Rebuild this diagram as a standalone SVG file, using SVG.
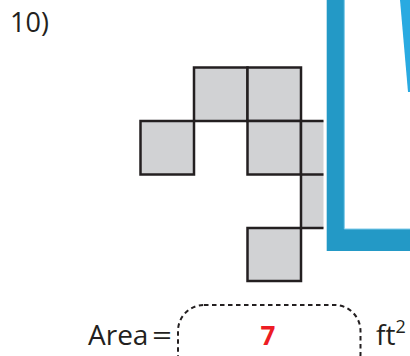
<svg xmlns="http://www.w3.org/2000/svg" width="410" height="356" viewBox="0 0 410 356">
<style>
.sq{fill:#d1d2d4;stroke:#231f20;stroke-width:2.5}
.t{font-family:"Open Sans","Liberation Sans",sans-serif;fill:#231f20}
</style>
<rect width="410" height="356" fill="#fff"/>
<g id="deco">
<path d="M326.7 0 H344.3 V229 H410 V251 H326.7 Z" fill="#2399c6"/>
<path d="M344.3 0 V229 H410" fill="none" stroke="#7fcbea" stroke-width="1"/>
<path d="M400 0 L408 92 L410 92 L410 0 Z" fill="#29aae1"/>
</g>
<g id="label"><text class="t" x="10" y="32" font-size="27">10)</text></g>
<g id="shape">
<rect class="sq" x="194" y="67.5" width="53.5" height="53.5"/>
<rect class="sq" x="247.5" y="67.5" width="53.5" height="53.5"/>
<rect class="sq" x="140.5" y="121" width="53.5" height="53.5"/>
<rect class="sq" x="247.5" y="121" width="53.5" height="53.5"/>
<rect class="sq" x="247.5" y="228" width="53.5" height="53"/>
<path d="M323.5 121 H301 V228 H323.5 Z" fill="#d1d2d4"/>
<path d="M323.5 121 H301 V228 H323.5 M301 174.5 H323.5" fill="none" stroke="#231f20" stroke-width="2.5"/>
</g>
<g id="answer">
<text class="t" x="88" y="345" font-size="28">Area</text>
<text class="t" x="152" y="345" font-size="28" textLength="20" lengthAdjust="spacingAndGlyphs">=</text>
<rect x="178" y="305" width="182.5" height="75" rx="26" fill="none" stroke="#231f20" stroke-width="2" stroke-dasharray="4.5 3.5"/>
<text x="268" y="345" font-family="Open Sans,Liberation Sans,sans-serif" font-weight="bold" font-size="26" fill="#ed1c24" text-anchor="middle">7</text>
<text class="t" x="376" y="345" font-size="28">ft<tspan font-size="18" dy="-12">2</tspan></text>
</g>
</svg>
